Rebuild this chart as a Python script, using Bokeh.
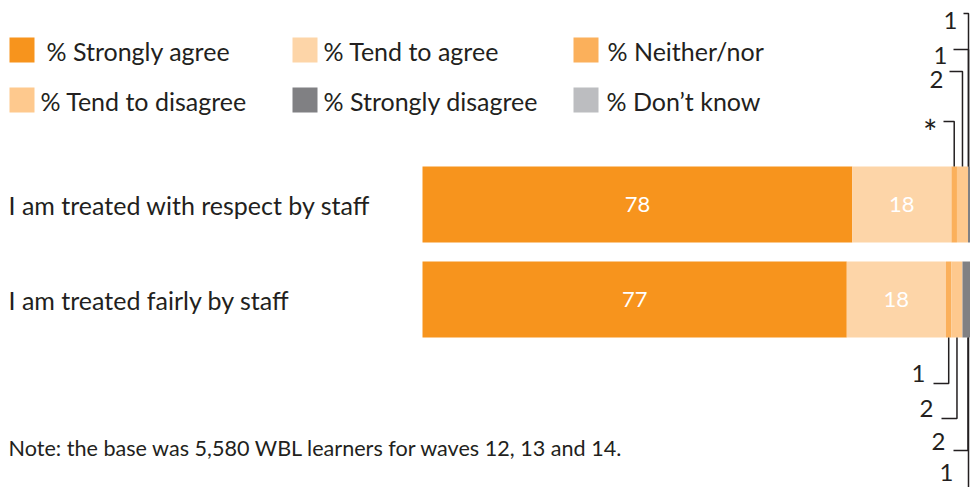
from bokeh.plotting import figure
from bokeh.models import Range1d, ColumnDataSource
from bokeh.core.properties import value
from bokeh.embed import file_html
from bokeh.resources import INLINE

# ---------------- data ----------------
statements = ["I am treated with respect by staff", "I am treated fairly by staff"]
categories = ["% Strongly agree", "% Tend to agree", "% Neither/nor",
              "% Tend to disagree", "% Strongly disagree", "% Don\u2019t know"]
strongly_agree = [78, 77]
tend_to_agree = [18, 18]
neither_nor = [1, 1]
tend_to_disagree = [2, 2]
strongly_disagree = [1, 2]
dont_know = [1, 1]
# labels printed next to the small segments (row 1 above bar, row 2 below bar)
small_labels_row1 = ["*", "2", "1", "1"]   # neither, tend dis., strongly dis., don't know
small_labels_row2 = ["1", "2", "2", "1"]
note = "Note: the base was 5,580 WBL learners for waves 12, 13 and 14."

colors = ["#F7941D", "#FDD5A8", "#FBB05B", "#FEC98E", "#808083", "#BCBDC0"]
TXT = "#231F20"
FONT = "Lato"

# ---------------- layout constants ----------------
W, H = 970, 487
PXU = 5.51             # pixels per percentage point
BAR_LEFT_PX = 422
X0 = -BAR_LEFT_PX / PXU
X1 = X0 + W / PXU
row_y = [204, 299]
bar_h = 76


def px_to_x(px):
    return X0 + px / PXU


p = figure(width=W, height=H, output_backend="svg", toolbar_location=None,
           x_range=Range1d(X0, X1), y_range=Range1d(H, 0),
           x_axis_type=None, y_axis_type=None, min_border=0,
           outline_line_color=None, background_fill_color="white",
           border_fill_color="white")

fields = ["sa", "ta", "nn", "td", "sd", "dk"]
series = [strongly_agree, tend_to_agree, neither_nor, tend_to_disagree,
          strongly_disagree, dont_know]
src = ColumnDataSource(dict(y=row_y, **{f: s for f, s in zip(fields, series)}))
p.hbar_stack(fields, y="y", height=bar_h, source=src, color=colors, line_color=None)

# value labels inside large segments
vx, vy, vt = [], [], []
for i in range(2):
    left = 0
    for k, s in enumerate(series):
        v = s[i]
        if k < 2:
            vx.append(left + v / 2)
            vy.append(row_y[i])
            vt.append(str(v))
        left += v
p.text(x=vx, y=vy, text=vt, text_color="white", text_font=value(FONT),
       text_font_size="22px", text_align="center", text_baseline="middle")

# statement labels
p.text(x=[px_to_x(8)] * 2, y=row_y, text=statements, text_color=TXT,
       text_font=value(FONT), text_font_size="25px", text_align="left",
       text_baseline="middle")

# leader lines for the small segments
x_clip = px_to_x(968)
top_line_y = [121, 71, 49, 13]
top_text_y = [131, 79, 55, 20]
top_label_right = [937, 943, 947, 957]
bot_line_y = [383, 418, 450, 489]
bot_text_y = [373, 408, 441, 472]
bot_label_right = [925, 933, 945, 953]

for i, (line_ys, text_ys, label_right, labels) in enumerate(
        [(top_line_y, top_text_y, top_label_right, small_labels_row1),
         (bot_line_y, bot_text_y, bot_label_right, small_labels_row2)]):
    left = sum(s[i] for s in series[:2])
    xs_l, ys_l, tx, ty, tt, ts = [], [], [], [], [], []
    bar_edge = row_y[i] - bar_h / 2 if i == 0 else row_y[i] + bar_h / 2
    gap = 6 if i == 0 else 8
    for k, s in enumerate(series[2:]):
        mid = left + s[i] / 2
        left += s[i]
        lx = min(mid, x_clip)
        ly = line_ys[k]
        xs_l.append([px_to_x(label_right[k] + gap), lx, lx])
        ys_l.append([ly, ly, bar_edge])
        tx.append(px_to_x(label_right[k]))
        ty.append(text_ys[k])
        tt.append(labels[k])
        ts.append("34px" if labels[k] == "*" else "24px")
    p.multi_line(xs=xs_l, ys=ys_l, line_color=TXT, line_width=1.5)
    lsrc = ColumnDataSource(dict(x=tx, y=ty, t=tt, s=ts))
    p.text(x="x", y="y", text="t", text_font_size="s", source=lsrc, text_color=TXT,
           text_font=value(FONT), text_align="right", text_baseline="middle")

# legend (custom drawn)
sq_left = [9, 292, 573, 9, 292, 573]
sq_top = [37, 37, 37, 87, 87, 87]
txt_left = [46, 323, 607, 40, 323, 606]
p.rect(x=[px_to_x(l + 12.5) for l in sq_left], y=[t + 12.5 for t in sq_top],
       width=25 / PXU, height=25, color=colors, line_color=None)
p.text(x=[px_to_x(t) for t in txt_left], y=[t + 13 for t in sq_top], text=categories,
       text_color=TXT, text_font=value(FONT), text_font_size="25px",
       text_align="left", text_baseline="middle")

# note
p.text(x=[px_to_x(8)], y=[447], text=[note], text_color=TXT, text_font=value(FONT),
       text_font_size="21.6px", text_align="left", text_baseline="middle")

open("out.html", "w").write(file_html(p, INLINE))
